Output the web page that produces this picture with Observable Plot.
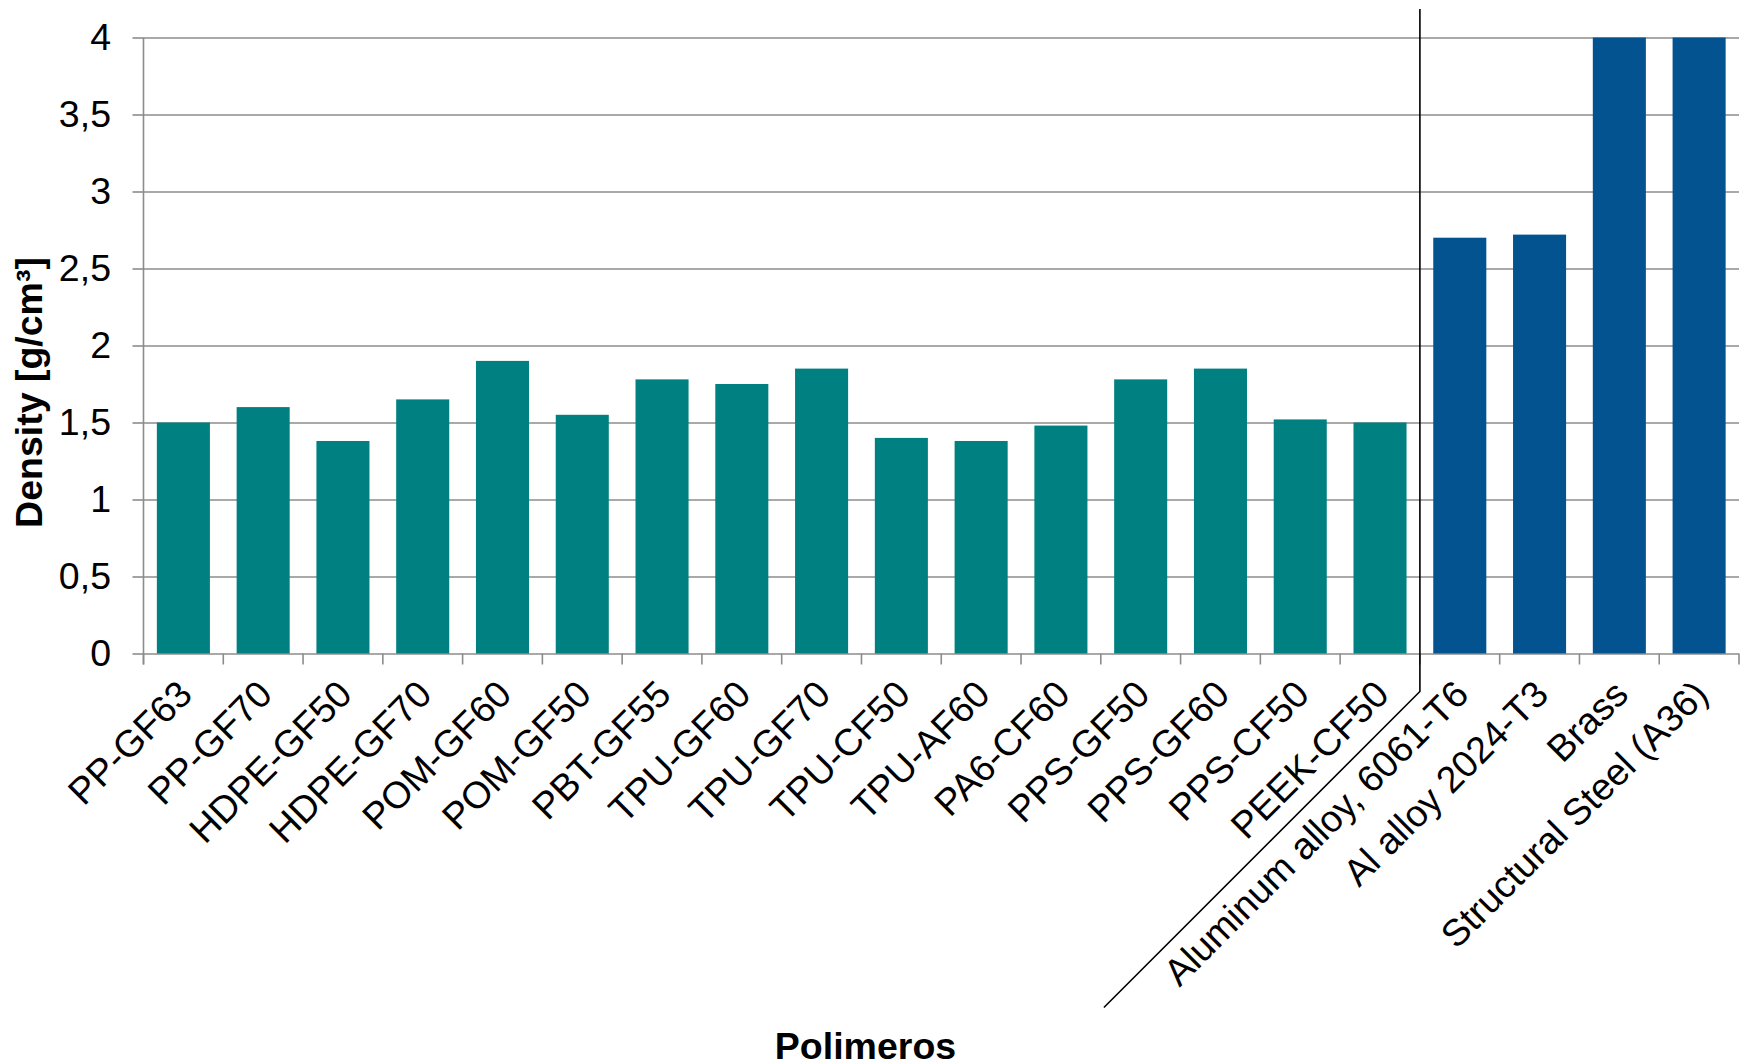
<!DOCTYPE html>
<html>
<head>
<meta charset="utf-8">
<script src="https://cdn.jsdelivr.net/npm/d3@7"></script>
<script src="https://cdn.jsdelivr.net/npm/@observablehq/plot@0.6"></script>
<style>
  html, body { margin: 0; padding: 0; background: #ffffff; overflow: hidden; }
  #chart svg { display: block; }
</style>
</head>
<body>
<div id="chart"></div>
<script>
// ---- data ----
const categories = [
  "PP-GF63", "PP-GF70", "HDPE-GF50", "HDPE-GF70", "POM-GF60", "POM-GF50",
  "PBT-GF55", "TPU-GF60", "TPU-GF70", "TPU-CF50", "TPU-AF60", "PA6-CF60",
  "PPS-GF50", "PPS-GF60", "PPS-CF50", "PEEK-CF50",
  "Aluminum alloy, 6061-T6", "Al alloy 2024-T3", "Brass", "Structural Steel (A36)"
];
const densities = [
  1.50, 1.60, 1.38, 1.65, 1.90, 1.55,
  1.78, 1.75, 1.85, 1.40, 1.38, 1.48,
  1.78, 1.85, 1.52, 1.50,
  2.70, 2.72, 4.00, 4.00
];
const groups = [
  "Polímero", "Polímero", "Polímero", "Polímero", "Polímero", "Polímero",
  "Polímero", "Polímero", "Polímero", "Polímero", "Polímero", "Polímero",
  "Polímero", "Polímero", "Polímero", "Polímero",
  "Metal", "Metal", "Metal", "Metal"
];
const groupNames = ["Polímero", "Metal"];
const groupColors = ["#008080", "#02538F"];
const yTicks = [0, 0.5, 1, 1.5, 2, 2.5, 3, 3.5, 4];
const xTitle = "Polimeros";
const yTitle = "Density [g/cm³]";

const rows = categories.map((c, i) => ({category: c, density: densities[i], group: groups[i]}));

const W = 1745, H = 1064;
const mL = 143.5, mR = 6, mT = 37.5, mB = 410.5;
const FONT = "'Liberation Sans', Arial, Helvetica, sans-serif";
const GRID = "#8c8c8c";
const TICK_FS = 37.5, TITLE_FS = 37.5;
const fmt = d => String(d).replace(".", ",");
const frameMidX = mL + (W - mL - mR) / 2;
const frameMidY = mT + (H - mT - mB) / 2;

const chart = Plot.plot({
  width: W,
  height: H,
  marginLeft: mL,
  marginRight: mR,
  marginTop: mT,
  marginBottom: mB,
  style: {fontFamily: FONT, fontSize: TICK_FS + "px", background: "#ffffff", color: "#000000", overflow: "visible"},
  x: {type: "band", domain: categories, paddingInner: 0.335, paddingOuter: 0.1675, round: false, axis: null},
  y: {domain: [0, 4], axis: null},
  color: {domain: groupNames, range: groupColors},
  marks: [
    Plot.gridY(yTicks, {stroke: GRID, strokeOpacity: 1, strokeWidth: 1.6}),
    Plot.axisY(yTicks, {
      label: null,
      tickSize: 11, tickPadding: 22, tickFormat: fmt,
      stroke: GRID, strokeWidth: 1.6, fill: "#000000", fontSize: TICK_FS
    }),
    Plot.barY(rows, {x: "category", y: "density", fill: "group"}),
    Plot.text(categories, {
      x: d => d, frameAnchor: "bottom", rotate: -45,
      textAnchor: "end", lineAnchor: "middle",
      dx: 2, dy: 34, fontSize: TICK_FS, fill: "#000000"
    }),
    Plot.text([yTitle], {
      frameAnchor: "left", rotate: -90, textAnchor: "middle", lineAnchor: "bottom",
      dx: 41 - mL, dy: 392 - frameMidY,
      fontSize: TITLE_FS, fontWeight: "bold", fill: "#000000"
    }),
    Plot.text([xTitle], {
      frameAnchor: "bottom", lineAnchor: "middle",
      dx: 865 - frameMidX, dy: 393,
      fontSize: TITLE_FS, fontWeight: "bold", fill: "#000000"
    })
  ]
});

document.getElementById("chart").appendChild(chart);

// ---- axis line, boundary ticks and the group separator, positioned from the scales ----
const sx = chart.scale("x");
const sy = chart.scale("y");
const off = (sx.step - sx.bandwidth) / 2;
const boundaries = categories.map(c => sx.apply(c) - off);
boundaries.push(sx.apply(categories[categories.length - 1]) + sx.bandwidth + off);
const y0 = sy.apply(0);
const yTop = sy.apply(4);

const g = d3.select(chart).append("g");

// y axis line
g.append("line")
  .attr("x1", boundaries[0]).attr("x2", boundaries[0])
  .attr("y1", yTop).attr("y2", y0 + 11)
  .attr("stroke", GRID).attr("stroke-width", 1.6);

// x axis ticks at category boundaries
g.selectAll("line.xtick").data(boundaries).join("line")
  .attr("class", "xtick")
  .attr("x1", d => d).attr("x2", d => d)
  .attr("y1", y0).attr("y2", y0 + 11)
  .attr("stroke", GRID).attr("stroke-width", 1.6);

// separator between polymers and metals
const firstMetal = groups.indexOf("Metal");
const sepX = boundaries[firstMetal];
g.append("path")
  .attr("d", `M${sepX},${yTop - 28.5}L${sepX},${y0 + 38}l${-316},${316}`)
  .attr("fill", "none").attr("stroke", "#000000").attr("stroke-width", 1.6);
</script>
</body>
</html>
